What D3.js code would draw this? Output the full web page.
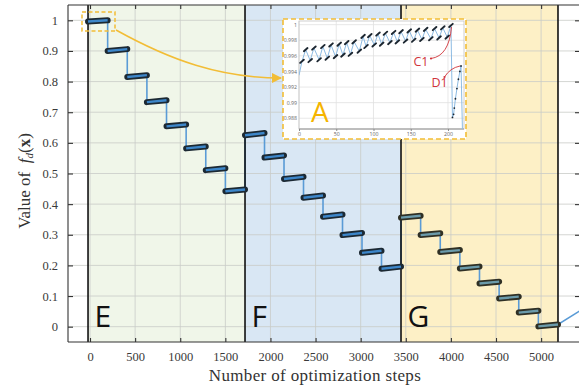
<!DOCTYPE html>
<html><head><meta charset="utf-8">
<script src="https://cdn.jsdelivr.net/npm/d3@7"></script>
<style>body{margin:0;background:#fff}svg{display:block}</style>
</head><body>
<svg id="chart" width="579" height="389"></svg>
<script>
// ---- main chart data ----
const xTickValues = [0, 500, 1000, 1500, 2000, 2500, 3000, 3500, 4000, 4500, 5000];
const yTickValues = [0, 0.1, 0.2, 0.3, 0.4, 0.5, 0.6, 0.7, 0.8, 0.9, 1];
const yTickLabels = ["0", "0.1", "0.2", "0.3", "0.4", "0.5", "0.6", "0.7", "0.8", "0.9", "1"];
const stageNames = ["E", "F", "G"];
const stageBounds = [-22, 1718, 3447, 5187];        // optimization step where each stage starts / ends
const stageColors = ["#f0f6e9", "#d9e7f4", "#fdf0c6"];
// each plateau: [value at start, value at end]
const stageE = [[0.996, 1.000], [0.900, 0.906], [0.815, 0.821], [0.733, 0.739],
                [0.654, 0.660], [0.582, 0.588], [0.511, 0.517], [0.442, 0.448]];
const stageF = [[0.625, 0.632], [0.552, 0.559], [0.482, 0.489], [0.421, 0.428],
                [0.359, 0.366], [0.299, 0.306], [0.241, 0.248], [0.189, 0.196]];
const stageG = [[0.356, 0.362], [0.299, 0.305], [0.244, 0.250], [0.190, 0.196],
                [0.141, 0.147], [0.092, 0.098], [0.046, 0.052], [0.001, 0.007]];
const tailPoints = [[5187, 0.007], [5442, 0.054]];

// ---- zoomed detail A (first plateau) ----
const insetXTicks = [0, 50, 100, 150, 200];
const insetYTicks = [0.988, 0.99, 0.992, 0.994, 0.996, 0.998, 1];
const insetYLabels = ["0.988", "0.99", "0.992", "0.994", "0.996", "0.998", "1"];
const insetStart = [0, 0.9935];
const troughX = [4, 15, 27, 38, 49, 59, 69, 81, 90, 101, 111, 122, 132, 143, 154, 165, 177, 188, 199];
const troughV = [0.9953, 0.9954, 0.9955, 0.9957, 0.9959, 0.9961, 0.9962, 0.9966, 0.9972, 0.9974,
                 0.9975, 0.9977, 0.9978, 0.9979, 0.9980, 0.9981, 0.9982, 0.9983, 0.9984];
const peakX = [9, 20, 32, 43, 54, 64, 74, 86, 95, 106, 116, 127, 137, 148, 159, 170, 182, 193, 204];
const peakV = [0.9968, 0.9970, 0.9972, 0.9974, 0.9975, 0.9977, 0.9978, 0.9985, 0.9986, 0.9988,
               0.9989, 0.9990, 0.9991, 0.9992, 0.9993, 0.9994, 0.9995, 0.9996, 0.9999];
const insetTail = [[206, 0.9881], [207.5, 0.9885], [208.5, 0.9893], [210, 0.9905], [212, 0.9918],
                   [214, 0.9930], [216, 0.9940], [217.5, 0.9947], [220, 0.9840]];

const svg = d3.select("#chart");
const frame = {left: 68, right: 581, top: 5, bottom: 342};
const x = d3.scaleLinear().domain([-244, 5442]).range([frame.left, frame.right]);
const y = d3.scaleLinear().domain([-0.05, 1.05]).range([frame.bottom, frame.top]);

const defs = svg.append("defs");
defs.append("clipPath").attr("id", "plotClip")
  .append("rect").attr("x", frame.left).attr("y", frame.top)
  .attr("width", 579 - frame.left).attr("height", frame.bottom - frame.top);

const plot = svg.append("g").attr("clip-path", "url(#plotClip)");

// stage backgrounds
stageNames.forEach((name, i) => {
  plot.append("rect")
    .attr("x", x(stageBounds[i])).attr("y", frame.top)
    .attr("width", x(stageBounds[i + 1]) - x(stageBounds[i]))
    .attr("height", frame.bottom - frame.top)
    .attr("fill", stageColors[i]);
});

// grid
plot.append("g").selectAll("line").data(xTickValues).join("line")
  .attr("x1", d => x(d)).attr("x2", d => x(d))
  .attr("y1", frame.top).attr("y2", frame.bottom)
  .attr("stroke", "#c9cbc8").attr("stroke-width", 0.8);
plot.append("g").selectAll("line").data(yTickValues).join("line")
  .attr("x1", frame.left).attr("x2", 579)
  .attr("y1", d => y(d)).attr("y2", d => y(d))
  .attr("stroke", "#c9cbc8").attr("stroke-width", 0.8);

// full trajectory (thin line with drops between plateaus)
const stages = [stageE, stageF, stageG];
const plateaus = [];
stages.forEach((levels, s) => {
  const a = stageBounds[s], b = stageBounds[s + 1], n = levels.length;
  levels.forEach((lv, i) => {
    plateaus.push({stage: s, x0: a + (b - a) * i / n, x1: a + (b - a) * (i + 1) / n, v0: lv[0], v1: lv[1]});
  });
});
const trajectory = [];
plateaus.forEach(p => { trajectory.push([p.x0, p.v0]); trajectory.push([p.x1, p.v1]); });
tailPoints.forEach(p => trajectory.push(p));

const line = d3.line().x(d => x(d[0])).y(d => y(d[1]));
plot.append("path").datum(trajectory).attr("d", line)
  .attr("fill", "none").attr("stroke", "#5a9bd6").attr("stroke-width", 1.6);

// stage separators
plot.append("g").selectAll("line").data(stageBounds).join("line")
  .attr("x1", d => x(d)).attr("x2", d => x(d))
  .attr("y1", frame.top).attr("y2", frame.bottom)
  .attr("stroke", "#111").attr("stroke-width", 1.6);

// plateaus: dense dark markers with the line on top
const markerCol = ["#1c2933", "#1c2933", "#2f3025"];
const coreCol = ["#3d86c9", "#3d86c9", "#6b9bab"];
plot.append("g").selectAll("path").data(plateaus).join("path")
  .attr("d", p => line([[p.x0, p.v0], [p.x1, p.v1]]))
  .attr("stroke", p => markerCol[p.stage]).attr("stroke-width", 6)
  .attr("stroke-linecap", "round").attr("fill", "none");
plot.append("g").selectAll("path").data(plateaus).join("path")
  .attr("d", p => line([[p.x0, p.v0], [p.x1, p.v1]]))
  .attr("stroke", p => coreCol[p.stage]).attr("stroke-width", 2.4)
  .attr("fill", "none");

// frame
const fr = svg.append("g").attr("stroke", "#333").attr("stroke-width", 1.1).attr("fill", "none");
fr.append("line").attr("x1", frame.left).attr("x2", 579).attr("y1", frame.top).attr("y2", frame.top);
fr.append("line").attr("x1", frame.left).attr("x2", 579).attr("y1", frame.bottom).attr("y2", frame.bottom);
fr.append("line").attr("x1", frame.left).attr("x2", frame.left).attr("y1", frame.top).attr("y2", frame.bottom);

// axes
const serif = "'Liberation Serif', 'DejaVu Serif', serif";
const xAxis = svg.append("g").attr("transform", `translate(0,${frame.bottom})`)
  .call(d3.axisBottom(x).tickValues(xTickValues).tickSize(-4).tickPadding(10.5).tickFormat(d3.format("d")));
const yAxis = svg.append("g").attr("transform", `translate(${frame.left},0)`)
  .call(d3.axisLeft(y).tickValues(yTickValues).tickSize(-5).tickPadding(10)
    .tickFormat((d, i) => yTickLabels[i]));
const topAxis = svg.append("g").attr("transform", `translate(0,${frame.top})`)
  .call(d3.axisTop(x).tickValues(xTickValues).tickSize(-4).tickFormat(""));
const rightAxis = svg.append("g").attr("transform", `translate(${frame.right},0)`)
  .call(d3.axisRight(y).tickValues(yTickValues).tickSize(-6).tickFormat(""));
[xAxis, yAxis, topAxis, rightAxis].forEach(g => {
  g.attr("font-family", serif).attr("font-size", 12.5);
  g.select(".domain").remove();
  g.selectAll(".tick line").attr("stroke", "#333").attr("stroke-width", 1.1);
  g.selectAll("text").style("font-family", serif).style("font-size", "12.5px").attr("fill", "#3a3a3a");
});

// stage letters
svg.append("g").selectAll("text").data(stageNames).join("text")
  .attr("x", (d, i) => x(stageBounds[i]) + 6.5)
  .attr("y", 327)
  .attr("font-family", "'Open Sans', sans-serif").attr("font-size", 30)
  .attr("fill", "#111")
  .text(d => d);

// axis titles
svg.append("text").attr("x", 315).attr("y", 381).attr("text-anchor", "middle")
  .attr("font-family", serif).attr("font-size", 17).attr("letter-spacing", 0.35)
  .attr("fill", "#333").text("Number of optimization steps");

const yTitle = svg.append("text").attr("transform", "translate(30,181) rotate(-90)")
  .attr("text-anchor", "middle").attr("font-family", serif).attr("font-size", 17).attr("fill", "#333");
yTitle.append("tspan").text("Value of\u2002");
yTitle.append("tspan").attr("font-style", "italic").text("f");
yTitle.append("tspan").attr("font-style", "italic").attr("font-size", 11).attr("dy", 3).text("d");
yTitle.append("tspan").attr("dy", -3).text("(");
yTitle.append("tspan").attr("font-weight", "bold").text("x");
yTitle.append("tspan").text(")");

// highlight box around the first plateau and the arrow into detail A
const gold = "#f2bd36";
svg.append("rect").attr("x", 82).attr("y", 12).attr("width", 33).attr("height", 19)
  .attr("fill", "none").attr("stroke", gold).attr("stroke-width", 1.5).attr("stroke-dasharray", "4,2.5");
defs.append("marker").attr("id", "goldHead")
  .attr("viewBox", "0 0 10 10").attr("refX", 9).attr("refY", 5)
  .attr("markerWidth", 7).attr("markerHeight", 7).attr("orient", "auto")
  .append("path").attr("d", "M0,0 L10,5 L0,10 z").attr("fill", gold);
svg.append("path").attr("d", "M116,30 C170,60 220,78 281,78")
  .attr("fill", "none").attr("stroke", gold).attr("stroke-width", 1.5)
  .attr("marker-end", "url(#goldHead)");

// ---- detail A ----
const inset = svg.append("g");
inset.append("rect").attr("x", 283).attr("y", 19).attr("width", 183).attr("height", 120)
  .attr("fill", "#fff").attr("stroke", gold).attr("stroke-width", 1.6).attr("stroke-dasharray", "5,3");
const ib = {left: 299, right: 464, top: 21, bottom: 129};
const ix = d3.scaleLinear().domain([0, 221.5]).range([ib.left, ib.right]);
const iy = d3.scaleLinear().domain([0.98662, 1.00047]).range([ib.bottom, ib.top]);
defs.append("clipPath").attr("id", "insetClip")
  .append("rect").attr("x", ib.left).attr("y", ib.top)
  .attr("width", ib.right - ib.left).attr("height", ib.bottom - ib.top);

inset.append("g").selectAll("line").data(insetXTicks).join("line")
  .attr("x1", d => ix(d)).attr("x2", d => ix(d)).attr("y1", ib.top).attr("y2", ib.bottom)
  .attr("stroke", "#e1e1e1").attr("stroke-width", 0.8);
inset.append("g").selectAll("line").data(insetYTicks).join("line")
  .attr("x1", ib.left).attr("x2", ib.right).attr("y1", d => iy(d)).attr("y2", d => iy(d))
  .attr("stroke", "#e1e1e1").attr("stroke-width", 0.8);
inset.append("rect").attr("x", ib.left).attr("y", ib.top)
  .attr("width", ib.right - ib.left).attr("height", ib.bottom - ib.top)
  .attr("fill", "none").attr("stroke", "#c4c4c4").attr("stroke-width", 0.8);
inset.append("line").attr("x1", ib.left).attr("x2", ib.right).attr("y1", ib.bottom).attr("y2", ib.bottom)
  .attr("stroke", "#8a8a8a").attr("stroke-width", 0.9);

const iax = inset.append("g").attr("transform", `translate(0,${ib.bottom})`)
  .call(d3.axisBottom(ix).tickValues(insetXTicks).tickSize(2).tickPadding(1.5));
const iay = inset.append("g").attr("transform", `translate(${ib.left},0)`)
  .call(d3.axisLeft(iy).tickValues(insetYTicks).tickSize(0).tickPadding(2)
    .tickFormat((d, i) => insetYLabels[i]));
[iax, iay].forEach(g => {
  g.select(".domain").remove();
  g.selectAll(".tick line").attr("stroke", "#8a8a8a");
  g.selectAll("text").attr("font-family", "'Open Sans', sans-serif").attr("font-size", 5.2).attr("fill", "#666");
});

const teeth = troughX.map((tx, i) => ({tx, tv: troughV[i], px: peakX[i], pv: peakV[i]}));
const insetSeries = [insetStart];
teeth.forEach(t => { insetSeries.push([t.tx, t.tv]); insetSeries.push([t.px, t.pv]); });
insetTail.forEach(p => insetSeries.push(p));

const ic = inset.append("g").attr("clip-path", "url(#insetClip)");
const iline = d3.line().x(d => ix(d[0])).y(d => iy(d[1]));
ic.append("path").datum(insetSeries).attr("d", iline)
  .attr("fill", "none").attr("stroke", "#8dbbe3").attr("stroke-width", 1);
const dashPts = [];
teeth.forEach(t => { dashPts.push([t.tx, t.tv]); dashPts.push([t.px, t.pv]); });
ic.append("g").selectAll("line").data(dashPts).join("line")
  .attr("x1", d => ix(d[0]) - 1.8).attr("y1", d => iy(d[1]) + 1.6)
  .attr("x2", d => ix(d[0]) + 1.8).attr("y2", d => iy(d[1]) - 1.6)
  .attr("stroke", "#1c2630").attr("stroke-width", 1.9).attr("stroke-linecap", "round");
ic.append("g").selectAll("circle").data(insetTail.slice(0, 8)).join("circle")
  .attr("cx", d => ix(d[0])).attr("cy", d => iy(d[1])).attr("r", 0.9).attr("fill", "#1c2630");

// annotations
const red = "#d0343a";
inset.append("path").attr("d", "M431,58.5 Q449,56 451.5,27")
  .attr("fill", "none").attr("stroke", red).attr("stroke-width", 0.9);
inset.append("circle").attr("cx", 431).attr("cy", 58.5).attr("r", 1.1).attr("fill", red);
inset.append("text").attr("x", 413.5).attr("y", 65.5).attr("font-family", "'Open Sans', sans-serif")
  .attr("font-size", 12.5).attr("fill", red).text("C1");
inset.append("path").attr("d", "M444.5,77 Q450,68 460,66")
  .attr("fill", "none").attr("stroke", red).attr("stroke-width", 0.9);
inset.append("circle").attr("cx", 444.5).attr("cy", 77).attr("r", 1.1).attr("fill", red);
inset.append("text").attr("x", 431.5).attr("y", 87).attr("font-family", "'Open Sans', sans-serif")
  .attr("font-size", 12.5).attr("fill", red).text("D1");
inset.append("text").attr("x", 311).attr("y", 122).attr("font-family", "'Open Sans', sans-serif")
  .attr("font-size", 28).attr("fill", "#f5b400").text("A");
</script>
</body></html>
